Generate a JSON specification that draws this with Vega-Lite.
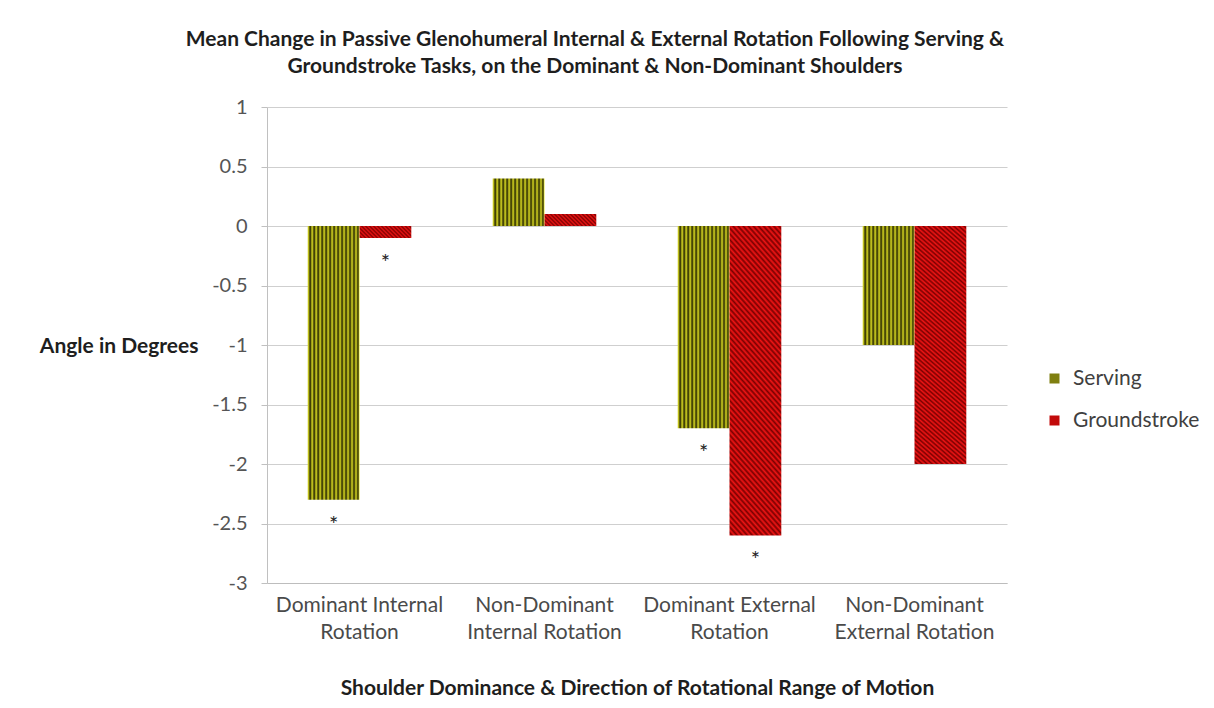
{
  "$schema": "https://vega.github.io/schema/vega-lite/v6.json",
  "width": 740,
  "height": 476,
  "autosize": {"type": "none"},
  "padding": {"left": 267, "top": 107, "right": 207, "bottom": 125},
  "background": "white",
  "config": {"font": "Lato", "view": {"stroke": null}},
  "title": {
    "text": ["Mean Change in Passive Glenohumeral Internal & External Rotation Following Serving &", "Groundstroke Tasks, on the Dominant & Non-Dominant Shoulders"],
    "fontSize": 21,
    "fontWeight": "bold",
    "color": "#1e1e1e",
    "lineHeight": 27,
    "anchor": "middle",
    "dx": -42,
    "offset": 20
  },
  "data": {
    "values": [
      {"category": "Dominant Internal Rotation", "series": "Serving", "value": -2.3, "sig": "*"},
      {"category": "Dominant Internal Rotation", "series": "Groundstroke", "value": -0.1, "sig": "*"},
      {"category": "Non-Dominant Internal Rotation", "series": "Serving", "value": 0.4, "sig": ""},
      {"category": "Non-Dominant Internal Rotation", "series": "Groundstroke", "value": 0.1, "sig": ""},
      {"category": "Dominant External Rotation", "series": "Serving", "value": -1.7, "sig": "*"},
      {"category": "Dominant External Rotation", "series": "Groundstroke", "value": -2.6, "sig": "*"},
      {"category": "Non-Dominant External Rotation", "series": "Serving", "value": -1.0, "sig": ""},
      {"category": "Non-Dominant External Rotation", "series": "Groundstroke", "value": -2.0, "sig": ""}
    ]
  },
  "encoding": {
    "x": {
      "field": "category",
      "type": "nominal",
      "sort": ["Dominant Internal Rotation", "Non-Dominant Internal Rotation", "Dominant External Rotation", "Non-Dominant External Rotation"],
      "scale": {"paddingInner": 0.44, "paddingOuter": 0.22},
      "axis": {
        "title": "Shoulder Dominance & Direction of Rotational Range of Motion",
        "titleFontSize": 21,
        "titleFontWeight": "bold",
        "titleColor": "#1e1e1e",
        "titlePadding": 35,
        "labelAngle": 0,
        "labelFontSize": 21,
        "labelColor": "#4a4a4a",
        "labelLineHeight": 27,
        "labelPadding": 11,
        "labelLimit": 0,
        "ticks": false,
        "domainColor": "#bdbdbd",
        "labelExpr": "datum.label == 'Dominant Internal Rotation' ? ['Dominant Internal','Rotation'] : datum.label == 'Non-Dominant Internal Rotation' ? ['Non-Dominant','Internal Rotation'] : datum.label == 'Dominant External Rotation' ? ['Dominant External','Rotation'] : ['Non-Dominant','External Rotation']"
      }
    },
    "xOffset": {
      "field": "series",
      "type": "nominal",
      "scale": {"domain": ["Serving", "Groundstroke"], "paddingInner": 0, "paddingOuter": 0}
    },
    "y": {
      "field": "value",
      "type": "quantitative",
      "scale": {"domain": [-3, 1], "nice": false},
      "axis": {
        "title": "Angle in Degrees",
        "titleAngle": 0,
        "titleAlign": "right",
        "titleBaseline": "middle",
        "titleX": -69,
        "titleY": 239,
        "titleFontSize": 21,
        "titleFontWeight": "bold",
        "titleColor": "#1e1e1e",
        "values": [-3, -2.5, -2, -1.5, -1, -0.5, 0, 0.5, 1],
        "labelExpr": "'' + datum.value",
        "labelFontSize": 20,
        "labelColor": "#555555",
        "labelPadding": 14,
        "tickSize": 6,
        "tickColor": "#c0c0c0",
        "domainColor": "#c0c0c0",
        "gridColor": "#cfcfcf"
      }
    }
  },
  "layer": [
    {
      "transform": [{"filter": "datum.series == 'Serving'"}],
      "mark": {
        "type": "bar",
        "fill": {"gradient": "linear", "x1": 0, "y1": 0, "x2": 1, "y2": 0, "stops": [
          {"offset": 0.0096, "color": "#dada22"}, {"offset": 0.0481, "color": "#262600"},
          {"offset": 0.0865, "color": "#dada22"}, {"offset": 0.1250, "color": "#262600"},
          {"offset": 0.1635, "color": "#dada22"}, {"offset": 0.2019, "color": "#262600"},
          {"offset": 0.2404, "color": "#dada22"}, {"offset": 0.2788, "color": "#262600"},
          {"offset": 0.3173, "color": "#dada22"}, {"offset": 0.3558, "color": "#262600"},
          {"offset": 0.3942, "color": "#dada22"}, {"offset": 0.4327, "color": "#262600"},
          {"offset": 0.4712, "color": "#dada22"}, {"offset": 0.5096, "color": "#262600"},
          {"offset": 0.5481, "color": "#dada22"}, {"offset": 0.5865, "color": "#262600"},
          {"offset": 0.6250, "color": "#dada22"}, {"offset": 0.6635, "color": "#262600"},
          {"offset": 0.7019, "color": "#dada22"}, {"offset": 0.7404, "color": "#262600"},
          {"offset": 0.7788, "color": "#dada22"}, {"offset": 0.8173, "color": "#262600"},
          {"offset": 0.8558, "color": "#dada22"}, {"offset": 0.8942, "color": "#262600"},
          {"offset": 0.9327, "color": "#dada22"}, {"offset": 0.9712, "color": "#262600"},
          {"offset": 1, "color": "#eaea30"}
        ]}
      }
    },
    {
      "transform": [{"filter": "datum.series == 'Groundstroke' && abs(datum.value) < 0.5"}],
      "mark": {
        "type": "bar",
        "fill": {"gradient": "linear", "x1": 0, "y1": 1, "x2": 1.168, "y2": 0.732, "stops": [
          {"offset": 0, "color": "#f01515"}, {"offset": 0.0313, "color": "#7a0000"},
          {"offset": 0.0625, "color": "#f01515"}, {"offset": 0.0938, "color": "#7a0000"},
          {"offset": 0.125, "color": "#f01515"}, {"offset": 0.1563, "color": "#7a0000"},
          {"offset": 0.1875, "color": "#f01515"}, {"offset": 0.2188, "color": "#7a0000"},
          {"offset": 0.25, "color": "#f01515"}, {"offset": 0.2813, "color": "#7a0000"},
          {"offset": 0.3125, "color": "#f01515"}, {"offset": 0.3438, "color": "#7a0000"},
          {"offset": 0.375, "color": "#f01515"}, {"offset": 0.4063, "color": "#7a0000"},
          {"offset": 0.4375, "color": "#f01515"}, {"offset": 0.4688, "color": "#7a0000"},
          {"offset": 0.5, "color": "#f01515"}, {"offset": 0.5313, "color": "#7a0000"},
          {"offset": 0.5625, "color": "#f01515"}, {"offset": 0.5938, "color": "#7a0000"},
          {"offset": 0.625, "color": "#f01515"}, {"offset": 0.6563, "color": "#7a0000"},
          {"offset": 0.6875, "color": "#f01515"}, {"offset": 0.7188, "color": "#7a0000"},
          {"offset": 0.75, "color": "#f01515"}, {"offset": 0.7813, "color": "#7a0000"},
          {"offset": 0.8125, "color": "#f01515"}, {"offset": 0.8438, "color": "#7a0000"},
          {"offset": 0.875, "color": "#f01515"}, {"offset": 0.9063, "color": "#7a0000"},
          {"offset": 0.9375, "color": "#f01515"}, {"offset": 0.9688, "color": "#7a0000"},
          {"offset": 1, "color": "#f01515"}
        ]}
      }
    },
    {
      "transform": [{"filter": "datum.series == 'Groundstroke' && abs(datum.value) >= 0.5"}],
      "mark": {
        "type": "bar",
        "fill": {"gradient": "linear", "x1": 0, "y1": 1, "x2": 0.217, "y2": -0.148, "stops": [
          {"offset": 0, "color": "#f01515"}, {"offset": 0.0078, "color": "#7a0000"},
          {"offset": 0.0156, "color": "#f01515"}, {"offset": 0.0234, "color": "#7a0000"},
          {"offset": 0.0313, "color": "#f01515"}, {"offset": 0.0391, "color": "#7a0000"},
          {"offset": 0.0469, "color": "#f01515"}, {"offset": 0.0547, "color": "#7a0000"},
          {"offset": 0.0625, "color": "#f01515"}, {"offset": 0.0703, "color": "#7a0000"},
          {"offset": 0.0781, "color": "#f01515"}, {"offset": 0.0859, "color": "#7a0000"},
          {"offset": 0.0938, "color": "#f01515"}, {"offset": 0.1016, "color": "#7a0000"},
          {"offset": 0.1094, "color": "#f01515"}, {"offset": 0.1172, "color": "#7a0000"},
          {"offset": 0.125, "color": "#f01515"}, {"offset": 0.1328, "color": "#7a0000"},
          {"offset": 0.1406, "color": "#f01515"}, {"offset": 0.1484, "color": "#7a0000"},
          {"offset": 0.1563, "color": "#f01515"}, {"offset": 0.1641, "color": "#7a0000"},
          {"offset": 0.1719, "color": "#f01515"}, {"offset": 0.1797, "color": "#7a0000"},
          {"offset": 0.1875, "color": "#f01515"}, {"offset": 0.1953, "color": "#7a0000"},
          {"offset": 0.2031, "color": "#f01515"}, {"offset": 0.2109, "color": "#7a0000"},
          {"offset": 0.2188, "color": "#f01515"}, {"offset": 0.2266, "color": "#7a0000"},
          {"offset": 0.2344, "color": "#f01515"}, {"offset": 0.2422, "color": "#7a0000"},
          {"offset": 0.25, "color": "#f01515"}, {"offset": 0.2578, "color": "#7a0000"},
          {"offset": 0.2656, "color": "#f01515"}, {"offset": 0.2734, "color": "#7a0000"},
          {"offset": 0.2813, "color": "#f01515"}, {"offset": 0.2891, "color": "#7a0000"},
          {"offset": 0.2969, "color": "#f01515"}, {"offset": 0.3047, "color": "#7a0000"},
          {"offset": 0.3125, "color": "#f01515"}, {"offset": 0.3203, "color": "#7a0000"},
          {"offset": 0.3281, "color": "#f01515"}, {"offset": 0.3359, "color": "#7a0000"},
          {"offset": 0.3438, "color": "#f01515"}, {"offset": 0.3516, "color": "#7a0000"},
          {"offset": 0.3594, "color": "#f01515"}, {"offset": 0.3672, "color": "#7a0000"},
          {"offset": 0.375, "color": "#f01515"}, {"offset": 0.3828, "color": "#7a0000"},
          {"offset": 0.3906, "color": "#f01515"}, {"offset": 0.3984, "color": "#7a0000"},
          {"offset": 0.4063, "color": "#f01515"}, {"offset": 0.4141, "color": "#7a0000"},
          {"offset": 0.4219, "color": "#f01515"}, {"offset": 0.4297, "color": "#7a0000"},
          {"offset": 0.4375, "color": "#f01515"}, {"offset": 0.4453, "color": "#7a0000"},
          {"offset": 0.4531, "color": "#f01515"}, {"offset": 0.4609, "color": "#7a0000"},
          {"offset": 0.4688, "color": "#f01515"}, {"offset": 0.4766, "color": "#7a0000"},
          {"offset": 0.4844, "color": "#f01515"}, {"offset": 0.4922, "color": "#7a0000"},
          {"offset": 0.5, "color": "#f01515"}, {"offset": 0.5078, "color": "#7a0000"},
          {"offset": 0.5156, "color": "#f01515"}, {"offset": 0.5234, "color": "#7a0000"},
          {"offset": 0.5313, "color": "#f01515"}, {"offset": 0.5391, "color": "#7a0000"},
          {"offset": 0.5469, "color": "#f01515"}, {"offset": 0.5547, "color": "#7a0000"},
          {"offset": 0.5625, "color": "#f01515"}, {"offset": 0.5703, "color": "#7a0000"},
          {"offset": 0.5781, "color": "#f01515"}, {"offset": 0.5859, "color": "#7a0000"},
          {"offset": 0.5938, "color": "#f01515"}, {"offset": 0.6016, "color": "#7a0000"},
          {"offset": 0.6094, "color": "#f01515"}, {"offset": 0.6172, "color": "#7a0000"},
          {"offset": 0.625, "color": "#f01515"}, {"offset": 0.6328, "color": "#7a0000"},
          {"offset": 0.6406, "color": "#f01515"}, {"offset": 0.6484, "color": "#7a0000"},
          {"offset": 0.6563, "color": "#f01515"}, {"offset": 0.6641, "color": "#7a0000"},
          {"offset": 0.6719, "color": "#f01515"}, {"offset": 0.6797, "color": "#7a0000"},
          {"offset": 0.6875, "color": "#f01515"}, {"offset": 0.6953, "color": "#7a0000"},
          {"offset": 0.7031, "color": "#f01515"}, {"offset": 0.7109, "color": "#7a0000"},
          {"offset": 0.7188, "color": "#f01515"}, {"offset": 0.7266, "color": "#7a0000"},
          {"offset": 0.7344, "color": "#f01515"}, {"offset": 0.7422, "color": "#7a0000"},
          {"offset": 0.75, "color": "#f01515"}, {"offset": 0.7578, "color": "#7a0000"},
          {"offset": 0.7656, "color": "#f01515"}, {"offset": 0.7734, "color": "#7a0000"},
          {"offset": 0.7813, "color": "#f01515"}, {"offset": 0.7891, "color": "#7a0000"},
          {"offset": 0.7969, "color": "#f01515"}, {"offset": 0.8047, "color": "#7a0000"},
          {"offset": 0.8125, "color": "#f01515"}, {"offset": 0.8203, "color": "#7a0000"},
          {"offset": 0.8281, "color": "#f01515"}, {"offset": 0.8359, "color": "#7a0000"},
          {"offset": 0.8438, "color": "#f01515"}, {"offset": 0.8516, "color": "#7a0000"},
          {"offset": 0.8594, "color": "#f01515"}, {"offset": 0.8672, "color": "#7a0000"},
          {"offset": 0.875, "color": "#f01515"}, {"offset": 0.8828, "color": "#7a0000"},
          {"offset": 0.8906, "color": "#f01515"}, {"offset": 0.8984, "color": "#7a0000"},
          {"offset": 0.9063, "color": "#f01515"}, {"offset": 0.9141, "color": "#7a0000"},
          {"offset": 0.9219, "color": "#f01515"}, {"offset": 0.9297, "color": "#7a0000"},
          {"offset": 0.9375, "color": "#f01515"}, {"offset": 0.9453, "color": "#7a0000"},
          {"offset": 0.9531, "color": "#f01515"}, {"offset": 0.9609, "color": "#7a0000"},
          {"offset": 0.9688, "color": "#f01515"}, {"offset": 0.9766, "color": "#7a0000"},
          {"offset": 0.9844, "color": "#f01515"}, {"offset": 0.9922, "color": "#7a0000"},
          {"offset": 1, "color": "#f01515"}
        ]}
      }
    },
    {
      "transform": [{"filter": "datum.sig == '*'"}],
      "mark": {"type": "text", "dy": 32, "baseline": "alphabetic", "fontSize": 22, "color": "#222222"},
      "encoding": {"text": {"field": "sig", "type": "nominal"}}
    },
    {
      "mark": {"type": "bar", "opacity": 0},
      "encoding": {
        "fill": {
          "field": "series",
          "type": "nominal",
          "scale": {"domain": ["Serving", "Groundstroke"], "range": ["#7f7f10", "#c20a0a"]},
          "legend": {
            "orient": "none",
            "legendX": 777,
            "legendY": 261,
            "title": null,
            "symbolType": "square",
            "symbolSize": 100,
            "symbolStrokeWidth": 0,
            "symbolOpacity": 1,
            "labelFontSize": 21,
            "labelColor": "#404040",
            "labelOffset": 8,
            "rowPadding": 20
          }
        }
      }
    }
  ]
}
